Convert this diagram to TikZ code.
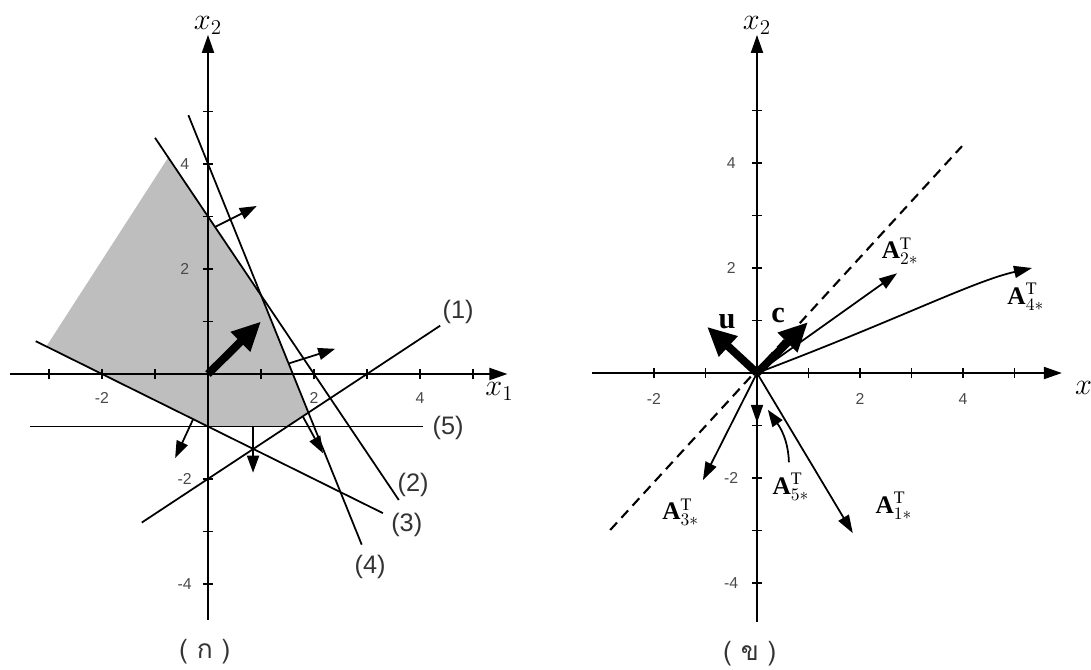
\documentclass[tikz,border=0pt]{standalone}
\usepackage{fontspec}
\setmainfont{Liberation Serif}
\setsansfont{Liberation Sans}
\newfontfamily\thaifont[Script=Thai]{Loma}
\usetikzlibrary{arrows.meta,positioning}
\definecolor{TickGray}{HTML}{4A4A4A}
\definecolor{LabelGray}{HTML}{333333}
\definecolor{ShadeGray}{HTML}{BEBEBE}

\begin{document}
\begin{tikzpicture}[
  axisline/.style={line width=1.1pt,-{Triangle[length=0.36cm,width=0.24cm]}},
  tickmark/.style={line width=1pt},
  ticklab/.style={font=\sffamily\fontsize{9}{11}\selectfont,text=TickGray,inner sep=0pt},
  cline/.style={line width=1pt},
  linelab/.style={font=\sffamily\Large,text=LabelGray,inner sep=0pt},
  nrm/.style={line width=1pt,-{Triangle[length=0.34cm,width=0.24cm]}},
  heavy/.style={line width=4.5pt,-{Triangle[length=0.58cm,width=0.52cm]}},
  vec/.style={line width=1pt,-{Triangle[length=0.36cm,width=0.24cm]}},
  vlab/.style={font=\Large,inner sep=0pt},
  axlab/.style={font=\LARGE,inner sep=0pt},
  panellab/.style={font=\thaifont\fontsize{15}{18}\selectfont,text=LabelGray}
]
\useasboundingbox (-4.16,-5.9) rectangle (17.66,7.48);

\begin{scope}[x=1.06cm,y=1.05cm]
\coordinate (O) at (0,0);
\fill[ShadeGray] (-0.75,4.125) -- (1,1.5) -- (1.895,-0.737) -- (1.5,-1) -- (0,-1) -- (-3.05,0.525) -- cycle;
\draw[axisline] (-3.74,0) -- (5.65,0) coordinate (xa);
\draw[axisline] (0,-4.69) -- (0,6.46) coordinate (ya);
\foreach \t in {-3,-2,-1,1,2,3,4,5} \draw[tickmark] (\t,-0.1) -- (\t,0.1);
\foreach \t in {-4,-3,-2,-1,1,2,3,4,5} \draw[tickmark] (-0.1,\t) -- (0.1,\t);
\foreach \t in {-2,2,4} \node[ticklab] at (\t,-0.46) {\t};
\foreach \t in {-4,-2,2,4} \node[ticklab] at (-0.44,\t) {\t};
\node[axlab,above=0pt of ya] (xtwo) {$x_2$};
\node[axlab] (xone) at (5.5,-0.33) {$x_1$};

\coordinate (p1a) at (-1.25,-2.83);
\coordinate (p1b) at (4.38,0.92);
\coordinate (p2a) at (-1.0,4.5);
\coordinate (p2b) at (3.6,-2.4);
\coordinate (p3a) at (-3.25,0.625);
\coordinate (p3b) at (3.3,-2.65);
\coordinate (p4a) at (-0.37,4.93);
\coordinate (p4b) at (2.9,-3.25);
\coordinate (p5a) at (-3.36,-1);
\coordinate (p5b) at (4.06,-1);
\draw[cline] (p1a) -- (p1b);
\draw[cline] (p2a) -- (p2b);
\draw[cline] (p3a) -- (p3b);
\draw[cline] (p4a) -- (p4b);
\draw[cline] (p5a) -- (p5b);
\node[linelab] (l1) at (4.72,1.18) {(1)};
\node[linelab] (l2) at (3.87,-2.11) {(2)};
\node[linelab] (l3) at (3.75,-2.88) {(3)};
\node[linelab] (l4) at (3.06,-3.68) {(4)};
\node[linelab] (l5) at (4.53,-1.03) {(5)};

\draw[nrm] (0.13,2.80) -- ++(0.79,0.40);
\draw[nrm] (1.52,0.20) -- ++(0.88,0.28);
\draw[nrm] (1.79,-0.81) -- ++(0.38,-0.70);
\draw[nrm] (0.85,-1) -- ++(0,-0.88);
\draw[nrm] (-0.28,-0.86) -- ++(-0.34,-0.74);
\coordinate (cl) at (1,1);
\draw[heavy] (O) -- (cl);
\node[panellab] (capa) at (-0.06,-5.28) {( ก )};
\end{scope}

\begin{scope}[shift={(10.98cm,0.02cm)},x=1.03cm,y=1.05cm]
\coordinate (O2) at (0,0);
\draw[axisline] (-3.2,0) -- (5.92,0) coordinate (xb);
\draw[axisline] (0,-4.74) -- (0,6.44) coordinate (yb);
\foreach \t in {-2,-1,1,2,3,4,5} \draw[tickmark] (\t,-0.1) -- (\t,0.1);
\foreach \t in {-4,-3,-2,-1,1,2,3,4,5} \draw[tickmark] (-0.1,\t) -- (0.1,\t);
\foreach \t in {-2,2,4} \node[ticklab] at (\t,-0.49) {\t};
\foreach \t in {-4,-2,2,4} \node[ticklab] at (-0.5,\t) {\t};
\node[axlab,above=0pt of yb] (xtwob) {$x_2$};
\node[axlab] (xoneb) at (6.45,-0.33) {$x_1$};

\coordinate (da) at (-2.85,-2.99);
\coordinate (db) at (3.98,4.32);
\draw[line width=1.2pt,dash pattern=on 0.2cm off 0.13cm] (da) -- (db);

\coordinate (a1) at (1.86,-3.05);
\coordinate (a2) at (2.72,1.9);
\coordinate (a3) at (-1.05,-2.04);
\coordinate (a4) at (5.34,2.0);
\coordinate (a5) at (0,-0.95);
\coordinate (uu) at (-0.97,0.88);
\coordinate (cc) at (0.99,0.97);
\draw[vec] (O2) -- (a1);
\draw[vec] (O2) -- (a2);
\draw[vec] (O2) -- (a3);
\draw[vec] (O2) .. controls (2.7,1.0) and (4.2,1.75) .. (a4);
\draw[vec] (O2) -- (a5);
\draw[heavy] (O2) -- (uu);
\draw[heavy] (O2) -- (cc);

\node[font=\LARGE\bfseries,inner sep=0pt] (ulab) at (-0.58,0.97) {u};
\node[font=\LARGE\bfseries,inner sep=0pt] (clab) at (0.41,1.1) {c};
\node[vlab] (t1) at (2.66,-2.53) {$\mathbf{A}^{\mathrm{T}}_{1*}$};
\node[vlab] (t2) at (2.78,2.32) {$\mathbf{A}^{\mathrm{T}}_{2*}$};
\node[vlab] (t3) at (-1.48,-2.65) {$\mathbf{A}^{\mathrm{T}}_{3*}$};
\node[vlab] (t4) at (5.22,1.45) {$\mathbf{A}^{\mathrm{T}}_{4*}$};
\node[vlab] (t5) at (0.66,-2.17) {$\mathbf{A}^{\mathrm{T}}_{5*}$};
\coordinate (ptr) at (0.21,-0.7);
\draw[nrm] (0.62,-1.7) to[out=92,in=-55] (ptr);
\node[panellab] (capb) at (-0.14,-5.34) {( ข )};
\end{scope}
\end{tikzpicture}
\end{document}
